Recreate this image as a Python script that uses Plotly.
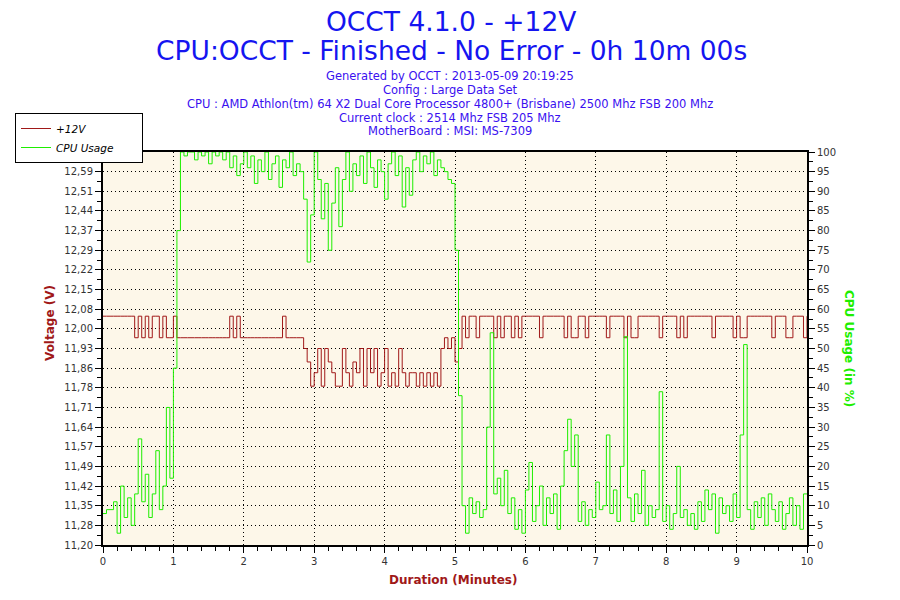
import plotly.graph_objects as go

# sample grid: one reading every 3 s over the 10 minute run
step_min = 0.05
duration = [round(i * step_min, 2) for i in range(201)]

volt_12v = (
    [12.05] * 9
    + [11.97, 12.05, 11.97, 12.05, 11.97, 12.05, 12.05, 11.97, 12.05, 11.97, 11.97, 12.05]
    + [11.97] * 15
    + [12.05, 11.97, 12.05]
    + [11.97] * 12
    + [12.05]
    + [11.97] * 5
    + [11.93, 11.88, 11.79, 11.84, 11.93, 11.79, 11.93, 11.88, 11.84, 11.79,
       11.79, 11.93, 11.84, 11.79, 11.88, 11.84, 11.93, 11.79, 11.93, 11.84,
       11.93, 11.79, 11.84, 11.93, 11.79, 11.84, 11.79, 11.93, 11.84, 11.79,
       11.84, 11.84, 11.79, 11.84, 11.79, 11.84, 11.79, 11.84, 11.79, 11.93,
       11.97, 11.93, 11.97, 11.88, 11.93]
    + [12.05, 11.97, 12.05, 12.05, 11.97, 12.05, 12.05, 12.05, 12.05, 11.97,
       12.05, 11.97, 12.05, 12.05, 11.97, 12.05, 11.97, 12.05, 12.05, 12.05,
       12.05, 12.05, 11.97, 12.05, 12.05, 12.05, 12.05, 12.05, 12.05, 11.97,
       12.05, 11.97, 11.97, 12.05, 12.05, 11.97, 12.05, 12.05, 12.05, 12.05,
       12.05, 11.97, 12.05, 12.05, 12.05, 12.05, 11.97, 12.05, 11.97, 11.97,
       12.05, 12.05, 12.05, 12.05, 12.05, 12.05, 11.97, 12.05, 12.05, 12.05,
       12.05, 11.97, 12.05, 11.97, 12.05, 12.05, 12.05, 12.05, 12.05, 12.05,
       12.05, 11.97, 12.05, 12.05, 12.05, 12.05, 12.05, 11.97, 12.05, 11.97,
       11.97, 12.05, 12.05, 12.05, 12.05, 12.05, 12.05, 12.05, 11.97, 12.05,
       12.05, 12.05, 11.97, 11.97, 12.05, 12.05, 12.05, 11.97, 12.05]
)

cpu_usage = (
    [8, 9, 9, 11, 3, 15, 7, 12, 5, 13, 27, 11, 18, 7, 13, 24, 9, 15, 35, 17]
    + [45, 80, 100]
    + [99, 100, 100, 98, 100, 99, 100, 97, 100, 99, 100, 98, 100, 96]
    + [99, 94, 97, 100, 96, 99, 92, 98, 95, 100, 93, 97, 99, 91, 98, 96, 100, 94, 97, 95]
    + [88, 72, 84, 100, 93, 83]
    + [92, 75, 87, 96, 81, 93, 100, 90, 97, 94, 99, 92, 100, 96, 91, 98, 95, 88]
    + [97, 100, 94, 99, 86, 96, 89, 98, 100, 95, 99, 97, 100, 94, 98, 96, 95, 93, 92]
    + [75, 38]
    + [10, 3, 12, 8, 11, 7, 9, 30, 54, 13, 17, 10, 19, 8, 12, 4, 9, 3,
       14, 21, 6, 10, 15, 5, 12, 8, 13, 4,
       15, 24, 32, 20, 28, 6, 11, 5, 9, 7,
       16, 9, 10, 28, 8, 14, 6, 20, 53, 12,
       6, 13, 8, 19, 5, 10, 7, 9, 39, 6,
       10, 4, 8, 20, 7, 9, 5, 8, 4, 11,
       6, 14, 9, 13, 3, 12, 8, 10, 6, 13,
       7, 28, 51, 9, 4, 11, 7, 12, 5, 13,
       9, 6, 11, 4, 8, 12, 5, 10, 4, 13, 13]
)

volt_ticks = ["11,20", "11,28", "11,35", "11,42", "11,49", "11,57", "11,64",
              "11,71", "11,78", "11,86", "11,93", "12,00", "12,08", "12,15",
              "12,22", "12,29", "12,37", "12,44", "12,51", "12,59", "12,66"]
volt_min, volt_max = 11.20, 12.66

title_lines = ["OCCT 4.1.0 - +12V", "CPU:OCCT - Finished - No Error - 0h 10m 00s"]
info_lines = ["Generated by OCCT : 2013-05-09 20:19:25",
              "Config : Large Data Set",
              "CPU : AMD Athlon(tm) 64 X2 Dual Core Processor 4800+ (Brisbane) 2500 Mhz FSB 200 Mhz",
              "Current clock : 2514 Mhz FSB 205 Mhz",
              "MotherBoard : MSI: MS-7309"]

FONT = "DejaVu Sans"
RED = "#a01818"
GREEN = "#1eee00"
GRID_DASH = "1px,3px"
PAD = "\u00a0" * 7  # widens the legend box like the original

vstep = (volt_max - volt_min) / 20
volt_tickvals = [volt_min + k * vstep for k in range(21)]

fig = go.Figure()
fig.add_scatter(x=duration, y=volt_12v, name="+12V", mode="lines",
                line=dict(color=RED, width=1, shape="hv"))
fig.add_scatter(x=duration, y=cpu_usage, name="CPU Usage" + PAD, mode="lines",
                line=dict(color=GREEN, width=1, shape="hv"), yaxis="y2")


# the page body adds 8px, so the plot box is placed at 103..807 x 152..545 on screen
def px_x(p):
    return (p - 103) / 704


def px_y(p):
    return (545 - p) / 393


annos = []
for txt, py in zip(title_lines, [21, 50]):
    annos.append(dict(text=txt, x=px_x(451), y=px_y(py), font=dict(size=26.5, color="#1515f0")))
for txt, py in zip(info_lines, [76, 90, 104, 118, 131]):
    annos.append(dict(text=txt, x=px_x(450), y=px_y(py), font=dict(size=11.5, color="#3a10f0")))
annos.append(dict(text="<b>Voltage (V)</b>", x=px_x(50), y=px_y(323), textangle=-90,
                  font=dict(size=12, color=RED)))
annos.append(dict(text="<b>CPU Usage (in %)</b>", x=px_x(849), y=px_y(348), textangle=90,
                  font=dict(size=12, color=GREEN)))
annos.append(dict(text="<b>Duration (Minutes)</b>", x=px_x(453), y=px_y(580),
                  font=dict(size=12, color=RED)))
for a in annos:
    a.update(xref="paper", yref="paper", showarrow=False, xanchor="center", yanchor="middle")

axis_common = dict(showline=True, linecolor="black", linewidth=2, ticks="outside",
                   tickcolor="black", ticklen=6, tickfont=dict(family=FONT, size=10, color="#333"),
                   zeroline=False)

fig.update_layout(
    width=900, height=600,
    margin=dict(l=95, r=101, t=144, b=63, autoexpand=False),
    paper_bgcolor="white", plot_bgcolor="#fdf7e9",
    font=dict(family=FONT),
    annotations=annos,
    showlegend=True,
    legend=dict(x=px_x(15), y=px_y(113), xanchor="left", yanchor="top",
                bgcolor="white", bordercolor="black", borderwidth=1,
                font=dict(family=FONT, size=10.5, color="black", style="italic"),
                tracegroupgap=0, itemwidth=30),
    xaxis=dict(axis_common, range=[0, 10], dtick=1, tick0=0, mirror=True,
               showgrid=True, gridcolor="black", griddash=GRID_DASH, gridwidth=1,
               minor=dict(dtick=0.2, ticks="outside", ticklen=4, tickcolor="black")),
    yaxis=dict(axis_common, range=[volt_min, volt_max], tickmode="array",
               tickvals=volt_tickvals, ticktext=volt_ticks,
               showgrid=True, gridcolor="black", griddash=GRID_DASH, gridwidth=1,
               minor=dict(tick0=volt_min, dtick=vstep / 2, ticks="outside", ticklen=4,
                          tickcolor="black")),
    yaxis2=dict(axis_common, range=[0, 100], dtick=5, overlaying="y", side="right",
                showgrid=False,
                minor=dict(dtick=2.5, ticks="outside", ticklen=4, tickcolor="black")),
)

fig.write_html("out.html")
